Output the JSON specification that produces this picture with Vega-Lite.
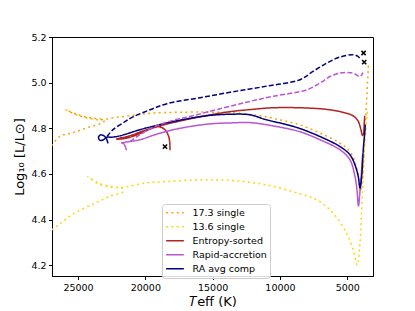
{
  "$schema": "https://vega.github.io/schema/vega-lite/v6.json",
  "width": 321,
  "height": 239,
  "autosize": {"type": "none"},
  "padding": {"left": 52, "top": 37, "right": 42, "bottom": 35},
  "background": "white",
  "config": {
    "view": {"stroke": "black", "strokeWidth": 1},
    "font": "DejaVu Sans",
    "axis": {
      "grid": false,
      "domainColor": "black",
      "tickColor": "black",
      "tickSize": 3.5,
      "labelColor": "black",
      "labelFont": "DejaVu Sans",
      "labelFontSize": 9.5,
      "labelPadding": 2.5,
      "titleFont": "DejaVu Sans",
      "titleFontSize": 13,
      "titleFontWeight": "normal",
      "titleColor": "black",
      "titlePadding": 4
    },
    "legend": {
      "orient": "none",
      "legendX": 110,
      "legendY": 167,
      "padding": 3,
      "strokeColor": "#cccccc",
      "fillColor": "rgba(255,255,255,0.85)",
      "cornerRadius": 3,
      "labelFont": "DejaVu Sans",
      "labelFontSize": 9.5,
      "labelColor": "black",
      "labelOffset": 7.5,
      "symbolType": "stroke",
      "symbolSize": 313,
      "symbolStrokeWidth": 1.5,
      "clipHeight": 11.3,
      "rowPadding": 2
    }
  },
  "datasets": {
    "tracks": [
      {"series": "17.3 single", "i": 1, "teff": 26953, "logL": 4.723},
      {"series": "17.3 single", "i": 2, "teff": 26336, "logL": 4.765},
      {"series": "17.3 single", "i": 3, "teff": 25468, "logL": 4.779},
      {"series": "17.3 single", "i": 4, "teff": 24235, "logL": 4.804},
      {"series": "17.3 single", "i": 5, "teff": 23121, "logL": 4.826},
      {"series": "17.3 single", "i": 6, "teff": 23046, "logL": 4.834},
      {"series": "17.3 single", "i": 7, "teff": 23240, "logL": 4.840},
      {"series": "17.3 single", "i": 8, "teff": 23982, "logL": 4.845},
      {"series": "17.3 single", "i": 9, "teff": 24978, "logL": 4.859},
      {"series": "17.3 single", "i": 10, "teff": 25913, "logL": 4.881},
      {"series": "17.3 single", "i": 11, "teff": 24978, "logL": 4.856},
      {"series": "17.3 single", "i": 12, "teff": 23982, "logL": 4.842},
      {"series": "17.3 single", "i": 13, "teff": 23240, "logL": 4.837},
      {"series": "17.3 single", "i": 14, "teff": 22497, "logL": 4.845},
      {"series": "17.3 single", "i": 15, "teff": 20893, "logL": 4.857},
      {"series": "17.3 single", "i": 16, "teff": 19282, "logL": 4.867},
      {"series": "17.3 single", "i": 17, "teff": 15940, "logL": 4.871},
      {"series": "17.3 single", "i": 18, "teff": 13489, "logL": 4.868},
      {"series": "17.3 single", "i": 19, "teff": 11485, "logL": 4.855},
      {"series": "17.3 single", "i": 20, "teff": 9999, "logL": 4.837},
      {"series": "17.3 single", "i": 21, "teff": 8514, "logL": 4.815},
      {"series": "17.3 single", "i": 22, "teff": 7029, "logL": 4.779},
      {"series": "17.3 single", "i": 23, "teff": 5544, "logL": 4.735},
      {"series": "17.3 single", "i": 24, "teff": 4801, "logL": 4.698},
      {"series": "17.3 single", "i": 25, "teff": 4356, "logL": 4.640},
      {"series": "17.3 single", "i": 26, "teff": 4132, "logL": 4.565},
      {"series": "17.3 single", "i": 27, "teff": 4022, "logL": 4.522},
      {"series": "17.3 single", "i": 28, "teff": 3910, "logL": 4.565},
      {"series": "17.3 single", "i": 29, "teff": 3836, "logL": 4.618},
      {"series": "17.3 single", "i": 30, "teff": 3687, "logL": 4.794},
      {"series": "17.3 single", "i": 31, "teff": 3562, "logL": 4.925},
      {"series": "17.3 single", "i": 32, "teff": 3464, "logL": 5.035},
      {"series": "17.3 single", "i": 33, "teff": 3427, "logL": 5.087},

      {"series": "13.6 single", "i": 1, "teff": 26953, "logL": 4.355},
      {"series": "13.6 single", "i": 2, "teff": 26336, "logL": 4.381},
      {"series": "13.6 single", "i": 3, "teff": 25468, "logL": 4.421},
      {"series": "13.6 single", "i": 4, "teff": 23737, "logL": 4.472},
      {"series": "13.6 single", "i": 5, "teff": 22623, "logL": 4.502},
      {"series": "13.6 single", "i": 6, "teff": 21635, "logL": 4.523},
      {"series": "13.6 single", "i": 7, "teff": 21695, "logL": 4.537},
      {"series": "13.6 single", "i": 8, "teff": 22497, "logL": 4.545},
      {"series": "13.6 single", "i": 9, "teff": 23492, "logL": 4.560},
      {"series": "13.6 single", "i": 10, "teff": 24280, "logL": 4.589},
      {"series": "13.6 single", "i": 11, "teff": 23492, "logL": 4.557},
      {"series": "13.6 single", "i": 12, "teff": 22497, "logL": 4.542},
      {"series": "13.6 single", "i": 13, "teff": 21755, "logL": 4.541},
      {"series": "13.6 single", "i": 14, "teff": 20024, "logL": 4.560},
      {"series": "13.6 single", "i": 15, "teff": 18413, "logL": 4.567},
      {"series": "13.6 single", "i": 16, "teff": 15940, "logL": 4.574},
      {"series": "13.6 single", "i": 17, "teff": 13467, "logL": 4.571},
      {"series": "13.6 single", "i": 18, "teff": 10987, "logL": 4.552},
      {"series": "13.6 single", "i": 19, "teff": 8514, "logL": 4.513},
      {"series": "13.6 single", "i": 20, "teff": 7274, "logL": 4.487},
      {"series": "13.6 single", "i": 21, "teff": 6041, "logL": 4.428},
      {"series": "13.6 single", "i": 22, "teff": 5046, "logL": 4.340},
      {"series": "13.6 single", "i": 23, "teff": 4556, "logL": 4.267},
      {"series": "13.6 single", "i": 24, "teff": 4259, "logL": 4.201},
      {"series": "13.6 single", "i": 25, "teff": 4058, "logL": 4.297},
      {"series": "13.6 single", "i": 26, "teff": 3932, "logL": 4.443},
      {"series": "13.6 single", "i": 27, "teff": 3813, "logL": 4.589},
      {"series": "13.6 single", "i": 28, "teff": 3687, "logL": 4.735},
      {"series": "13.6 single", "i": 29, "teff": 3562, "logL": 4.837},
      {"series": "13.6 single", "i": 30, "teff": 3502, "logL": 4.881},

      {"series": "Entropy-sorted", "i": 1, "teff": 18168, "logL": 4.704},
      {"series": "Entropy-sorted", "i": 2, "teff": 18183, "logL": 4.737},
      {"series": "Entropy-sorted", "i": 3, "teff": 18280, "logL": 4.767},
      {"series": "Entropy-sorted", "i": 4, "teff": 18540, "logL": 4.794},
      {"series": "Entropy-sorted", "i": 5, "teff": 18985, "logL": 4.807},
      {"series": "Entropy-sorted", "i": 6, "teff": 19505, "logL": 4.800},
      {"series": "Entropy-sorted", "i": 7, "teff": 20174, "logL": 4.783},
      {"series": "Entropy-sorted", "i": 8, "teff": 20916, "logL": 4.765},
      {"series": "Entropy-sorted", "i": 9, "teff": 21658, "logL": 4.754},
      {"series": "Entropy-sorted", "i": 10, "teff": 22141, "logL": 4.753},
      {"series": "Entropy-sorted", "i": 11, "teff": 21881, "logL": 4.757},
      {"series": "Entropy-sorted", "i": 12, "teff": 21138, "logL": 4.768},
      {"series": "Entropy-sorted", "i": 13, "teff": 20025, "logL": 4.791},
      {"series": "Entropy-sorted", "i": 14, "teff": 18911, "logL": 4.811},
      {"series": "Entropy-sorted", "i": 15, "teff": 17180, "logL": 4.835},
      {"series": "Entropy-sorted", "i": 16, "teff": 15442, "logL": 4.856},
      {"series": "Entropy-sorted", "i": 17, "teff": 13712, "logL": 4.873},
      {"series": "Entropy-sorted", "i": 18, "teff": 12227, "logL": 4.882},
      {"series": "Entropy-sorted", "i": 19, "teff": 10519, "logL": 4.890},
      {"series": "Entropy-sorted", "i": 20, "teff": 8017, "logL": 4.889},
      {"series": "Entropy-sorted", "i": 21, "teff": 6289, "logL": 4.881},
      {"series": "Entropy-sorted", "i": 22, "teff": 5175, "logL": 4.868},
      {"series": "Entropy-sorted", "i": 23, "teff": 4578, "logL": 4.855},
      {"series": "Entropy-sorted", "i": 24, "teff": 4207, "logL": 4.833},
      {"series": "Entropy-sorted", "i": 25, "teff": 3985, "logL": 4.794},
      {"series": "Entropy-sorted", "i": 26, "teff": 3874, "logL": 4.769},
      {"series": "Entropy-sorted", "i": 27, "teff": 3799, "logL": 4.776},
      {"series": "Entropy-sorted", "i": 28, "teff": 3747, "logL": 4.816},
      {"series": "Entropy-sorted", "i": 29, "teff": 3702, "logL": 4.855},

      {"series": "Rapid-accretion", "i": 1, "teff": 21398, "logL": 4.704},
      {"series": "Rapid-accretion", "i": 2, "teff": 21510, "logL": 4.723},
      {"series": "Rapid-accretion", "i": 3, "teff": 21621, "logL": 4.734},
      {"series": "Rapid-accretion", "i": 4, "teff": 21769, "logL": 4.736},
      {"series": "Rapid-accretion", "i": 5, "teff": 21510, "logL": 4.739},
      {"series": "Rapid-accretion", "i": 6, "teff": 20396, "logL": 4.750},
      {"series": "Rapid-accretion", "i": 7, "teff": 19282, "logL": 4.772},
      {"series": "Rapid-accretion", "i": 8, "teff": 17922, "logL": 4.794},
      {"series": "Rapid-accretion", "i": 9, "teff": 15442, "logL": 4.818},
      {"series": "Rapid-accretion", "i": 10, "teff": 13467, "logL": 4.824},
      {"series": "Rapid-accretion", "i": 11, "teff": 12227, "logL": 4.825},
      {"series": "Rapid-accretion", "i": 12, "teff": 10371, "logL": 4.809},
      {"series": "Rapid-accretion", "i": 13, "teff": 8514, "logL": 4.785},
      {"series": "Rapid-accretion", "i": 14, "teff": 7029, "logL": 4.750},
      {"series": "Rapid-accretion", "i": 15, "teff": 5544, "logL": 4.706},
      {"series": "Rapid-accretion", "i": 16, "teff": 4801, "logL": 4.662},
      {"series": "Rapid-accretion", "i": 17, "teff": 4430, "logL": 4.589},
      {"series": "Rapid-accretion", "i": 18, "teff": 4281, "logL": 4.530},
      {"series": "Rapid-accretion", "i": 19, "teff": 4169, "logL": 4.460},
      {"series": "Rapid-accretion", "i": 20, "teff": 4080, "logL": 4.508},
      {"series": "Rapid-accretion", "i": 21, "teff": 3977, "logL": 4.583},
      {"series": "Rapid-accretion", "i": 22, "teff": 3866, "logL": 4.684},

      {"series": "RA avg comp", "i": 1, "teff": 22772, "logL": 4.734},
      {"series": "RA avg comp", "i": 2, "teff": 22883, "logL": 4.754},
      {"series": "RA avg comp", "i": 3, "teff": 23069, "logL": 4.767},
      {"series": "RA avg comp", "i": 4, "teff": 23329, "logL": 4.771},
      {"series": "RA avg comp", "i": 5, "teff": 23477, "logL": 4.761},
      {"series": "RA avg comp", "i": 6, "teff": 23366, "logL": 4.747},
      {"series": "RA avg comp", "i": 7, "teff": 23106, "logL": 4.750},
      {"series": "RA avg comp", "i": 8, "teff": 22846, "logL": 4.761},
      {"series": "RA avg comp", "i": 9, "teff": 22475, "logL": 4.761},
      {"series": "RA avg comp", "i": 10, "teff": 21881, "logL": 4.767},
      {"series": "RA avg comp", "i": 11, "teff": 20396, "logL": 4.794},
      {"series": "RA avg comp", "i": 12, "teff": 19282, "logL": 4.811},
      {"series": "RA avg comp", "i": 13, "teff": 17922, "logL": 4.830},
      {"series": "RA avg comp", "i": 14, "teff": 15442, "logL": 4.855},
      {"series": "RA avg comp", "i": 15, "teff": 13467, "logL": 4.862},
      {"series": "RA avg comp", "i": 16, "teff": 12227, "logL": 4.859},
      {"series": "RA avg comp", "i": 17, "teff": 10987, "logL": 4.837},
      {"series": "RA avg comp", "i": 18, "teff": 9628, "logL": 4.818},
      {"series": "RA avg comp", "i": 19, "teff": 8514, "logL": 4.799},
      {"series": "RA avg comp", "i": 20, "teff": 7029, "logL": 4.764},
      {"series": "RA avg comp", "i": 21, "teff": 5544, "logL": 4.720},
      {"series": "RA avg comp", "i": 22, "teff": 4801, "logL": 4.684},
      {"series": "RA avg comp", "i": 23, "teff": 4430, "logL": 4.640},
      {"series": "RA avg comp", "i": 24, "teff": 4184, "logL": 4.589},
      {"series": "RA avg comp", "i": 25, "teff": 4058, "logL": 4.538},
      {"series": "RA avg comp", "i": 26, "teff": 3932, "logL": 4.589},
      {"series": "RA avg comp", "i": 27, "teff": 3813, "logL": 4.706},
      {"series": "RA avg comp", "i": 28, "teff": 3687, "logL": 4.794},
      {"series": "RA avg comp", "i": 29, "teff": 3665, "logL": 4.816}
    ],
    "late": [
      {"series": "Rapid-accretion", "i": 1, "teff": 21138, "logL": 4.742},
      {"series": "Rapid-accretion", "i": 2, "teff": 20396, "logL": 4.772},
      {"series": "Rapid-accretion", "i": 3, "teff": 19282, "logL": 4.808},
      {"series": "Rapid-accretion", "i": 4, "teff": 17797, "logL": 4.837},
      {"series": "Rapid-accretion", "i": 5, "teff": 16683, "logL": 4.852},
      {"series": "Rapid-accretion", "i": 6, "teff": 14232, "logL": 4.889},
      {"series": "Rapid-accretion", "i": 7, "teff": 12227, "logL": 4.918},
      {"series": "Rapid-accretion", "i": 8, "teff": 10519, "logL": 4.940},
      {"series": "Rapid-accretion", "i": 9, "teff": 7994, "logL": 4.969},
      {"series": "Rapid-accretion", "i": 10, "teff": 7029, "logL": 4.998},
      {"series": "Rapid-accretion", "i": 11, "teff": 6287, "logL": 5.027},
      {"series": "Rapid-accretion", "i": 12, "teff": 5544, "logL": 5.042},
      {"series": "Rapid-accretion", "i": 13, "teff": 4578, "logL": 5.042},
      {"series": "Rapid-accretion", "i": 14, "teff": 4059, "logL": 5.027},
      {"series": "Rapid-accretion", "i": 15, "teff": 3836, "logL": 5.044},

      {"series": "RA avg comp", "i": 1, "teff": 22846, "logL": 4.764},
      {"series": "RA avg comp", "i": 2, "teff": 22401, "logL": 4.794},
      {"series": "RA avg comp", "i": 3, "teff": 21510, "logL": 4.829},
      {"series": "RA avg comp", "i": 4, "teff": 20916, "logL": 4.850},
      {"series": "RA avg comp", "i": 5, "teff": 19653, "logL": 4.881},
      {"series": "RA avg comp", "i": 6, "teff": 18391, "logL": 4.908},
      {"series": "RA avg comp", "i": 7, "teff": 15940, "logL": 4.934},
      {"series": "RA avg comp", "i": 8, "teff": 13490, "logL": 4.960},
      {"series": "RA avg comp", "i": 9, "teff": 10965, "logL": 4.985},
      {"series": "RA avg comp", "i": 10, "teff": 8514, "logL": 5.013},
      {"series": "RA avg comp", "i": 11, "teff": 7549, "logL": 5.049},
      {"series": "RA avg comp", "i": 12, "teff": 6509, "logL": 5.086},
      {"series": "RA avg comp", "i": 13, "teff": 5544, "logL": 5.112},
      {"series": "RA avg comp", "i": 14, "teff": 4578, "logL": 5.122},
      {"series": "RA avg comp", "i": 15, "teff": 4208, "logL": 5.115},
      {"series": "RA avg comp", "i": 16, "teff": 3985, "logL": 5.101}
    ],
    "ends": [
      {"teff": 18539, "logL": 4.720},
      {"teff": 3790, "logL": 5.130},
      {"teff": 3745, "logL": 5.090}
    ]
  },
  "encoding": {
    "x": {
      "field": "teff",
      "type": "quantitative",
      "scale": {"domain": [3090, 26930], "reverse": true, "nice": false, "zero": false},
      "axis": {"values": [25000, 20000, 15000, 10000, 5000], "format": "d", "title": "𝑇eff (K)"}
    },
    "y": {
      "field": "logL",
      "type": "quantitative",
      "scale": {"domain": [4.153, 5.2], "nice": false, "zero": false},
      "axis": {"values": [4.2, 4.4, 4.6, 4.8, 5.0, 5.2], "format": ".1f", "title": "Log₁₀ [L/L⊙]"}
    }
  },
  "layer": [
    {
      "data": {"name": "tracks"},
      "mark": {"type": "line", "strokeWidth": 1.5, "clip": true, "interpolate": "catmull-rom"},
      "encoding": {
        "order": {"field": "i", "type": "quantitative"},
        "color": {
          "field": "series",
          "type": "nominal",
          "scale": {
            "domain": ["17.3 single", "13.6 single", "Entropy-sorted", "Rapid-accretion", "RA avg comp"],
            "range": ["#FFA500", "#FFD700", "#B22222", "#BA55D3", "#000080"]
          },
          "legend": {"title": null}
        },
        "strokeDash": {
          "field": "series",
          "type": "nominal",
          "scale": {
            "domain": ["17.3 single", "13.6 single", "Entropy-sorted", "Rapid-accretion", "RA avg comp"],
            "range": [[2, 3.3], [2, 3.3], [1, 0], [1, 0], [1, 0]]
          },
          "legend": {"title": null}
        }
      }
    },
    {
      "data": {"name": "late"},
      "mark": {"type": "line", "strokeWidth": 1.5, "strokeDash": [5, 2.2], "clip": true, "interpolate": "catmull-rom"},
      "encoding": {
        "order": {"field": "i", "type": "quantitative"},
        "color": {"field": "series", "type": "nominal", "legend": null}
      }
    },
    {
      "data": {"name": "ends"},
      "mark": {"type": "point", "shape": "M-1,-1L1,1M-1,1L1,-1", "filled": false, "stroke": "black", "strokeWidth": 1.5, "size": 18, "opacity": 1}
    }
  ]
}
